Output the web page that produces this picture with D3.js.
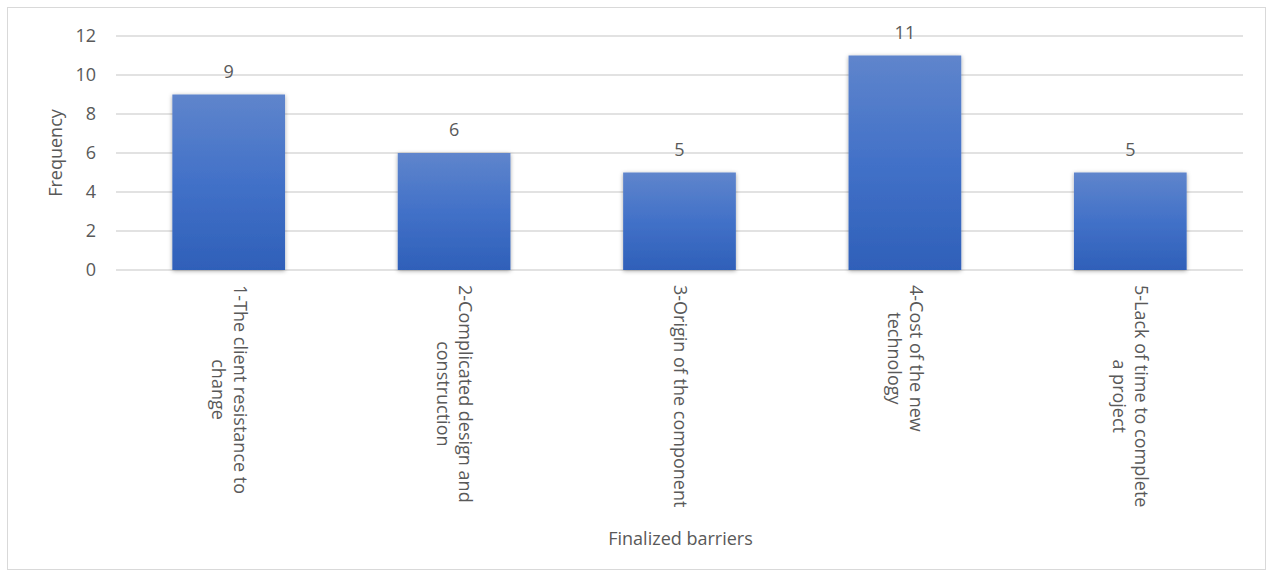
<!DOCTYPE html>
<html>
<head>
<meta charset="utf-8">
<script src="https://cdn.jsdelivr.net/npm/d3@7"></script>
<style>
  body { margin: 0; background: #fff; }
  text { font-family: "Open Sans", sans-serif; fill: #595959; }
</style>
</head>
<body>
<svg class="chart"></svg>
<script>
// chart values
var categories = [
    ["1-The client resistance to", "change"],
    ["2-Complicated design and", "construction"],
    ["3-Origin of the component"],
    ["4-Cost of the new", "technology"],
    ["5-Lack of time to complete", "a project"]
];
var frequency = [9, 6, 5, 11, 5];
var yTicks = [0, 2, 4, 6, 8, 10, 12];

var W = 1273, H = 576;
var margin = {top: 36, left: 116, right: 30, bottom: 306};
var fs = "18px";

var svg = d3.select(".chart").attr("width", W).attr("height", H);

// outer frame
svg.append("rect")
    .attr("x", 7.5).attr("y", 7.5)
    .attr("width", W - 15).attr("height", H - 14)
    .attr("fill", "#fff").attr("stroke", "#d9d9d9");

var defs = svg.append("defs");
var grad = defs.append("linearGradient").attr("id", "barGrad")
    .attr("x1", 0).attr("y1", 0).attr("x2", 0).attr("y2", 1);
grad.append("stop").attr("offset", "0%").attr("stop-color", "#5f85cc");
grad.append("stop").attr("offset", "50%").attr("stop-color", "#4271c8");
grad.append("stop").attr("offset", "100%").attr("stop-color", "#2f60b9");

var shadow = defs.append("filter").attr("id", "shadow")
    .attr("x", "-10%").attr("y", "-10%").attr("width", "120%").attr("height", "120%");
shadow.append("feDropShadow").attr("dx", 0).attr("dy", 1).attr("stdDeviation", 2)
    .attr("flood-color", "#000").attr("flood-opacity", 0.35);

var x = d3.scaleBand()
    .domain(d3.range(categories.length))
    .range([margin.left, W - margin.right])
    .paddingInner(0.5).paddingOuter(0.25);

var y = d3.scaleLinear().domain([0, 12]).range([H - margin.bottom, margin.top]);

// gridlines
svg.append("g").selectAll("line").data(yTicks).enter()
    .append("line")
    .attr("x1", margin.left).attr("x2", W - margin.right)
    .attr("y1", function(d) { return y(d); }).attr("y2", function(d) { return y(d); })
    .attr("stroke", "#d9d9d9").attr("stroke-width", 1.5);

// y tick labels
svg.append("g").selectAll("text").data(yTicks).enter()
    .append("text")
    .attr("x", 96).attr("y", function(d) { return y(d); })
    .attr("dy", "0.35em")
    .attr("text-anchor", "end")
    .style("font-size", fs)
    .text(function(d) { return d; });

// bars
svg.append("g").selectAll("rect").data(frequency).enter()
    .append("rect")
    .attr("x", function(d, i) { return x(i); })
    .attr("y", function(d) { return y(d); })
    .attr("width", x.bandwidth())
    .attr("height", function(d) { return y(0) - y(d); })
    .attr("fill", "url(#barGrad)")
    .attr("filter", "url(#shadow)");

// value labels
svg.append("g").selectAll("text").data(frequency).enter()
    .append("text")
    .attr("x", function(d, i) { return x(i) + x.bandwidth() / 2; })
    .attr("y", function(d) { return y(d) - 17; })
    .attr("text-anchor", "middle")
    .style("font-size", fs)
    .text(function(d) { return d; });

// category labels, rotated, top aligned under the axis
var lineH = 22, labelTop = y(0) + 15;
categories.forEach(function(lines, i) {
    var cx = x(i) + x.bandwidth() / 2;
    var g = svg.append("g");
    var t = g.append("text")
        .attr("text-anchor", "middle")
        .style("font-size", fs);
    lines.forEach(function(l, k) {
        t.append("tspan").attr("x", 0).attr("dy", k === 0 ? 0 : lineH).text(l);
    });
    var maxW = d3.max(t.selectAll("tspan").nodes(), function(n) { return n.getComputedTextLength(); });
    var off = (lines.length - 1) * lineH / 2;
    g.attr("transform", "translate(" + (cx + off - 6) + "," + (labelTop + maxW / 2) + ") rotate(90)");
});

// axis titles
svg.append("text")
    .attr("transform", "translate(62," + (margin.top + (y(0) - margin.top) / 2) + ") rotate(-90)")
    .attr("text-anchor", "middle")
    .style("font-size", fs)
    .text("Frequency");

svg.append("text")
    .attr("x", margin.left + (W - margin.right - margin.left) / 2 + 1)
    .attr("y", 545)
    .attr("text-anchor", "middle")
    .style("font-size", fs)
    .text("Finalized barriers");
</script>
</body>
</html>
